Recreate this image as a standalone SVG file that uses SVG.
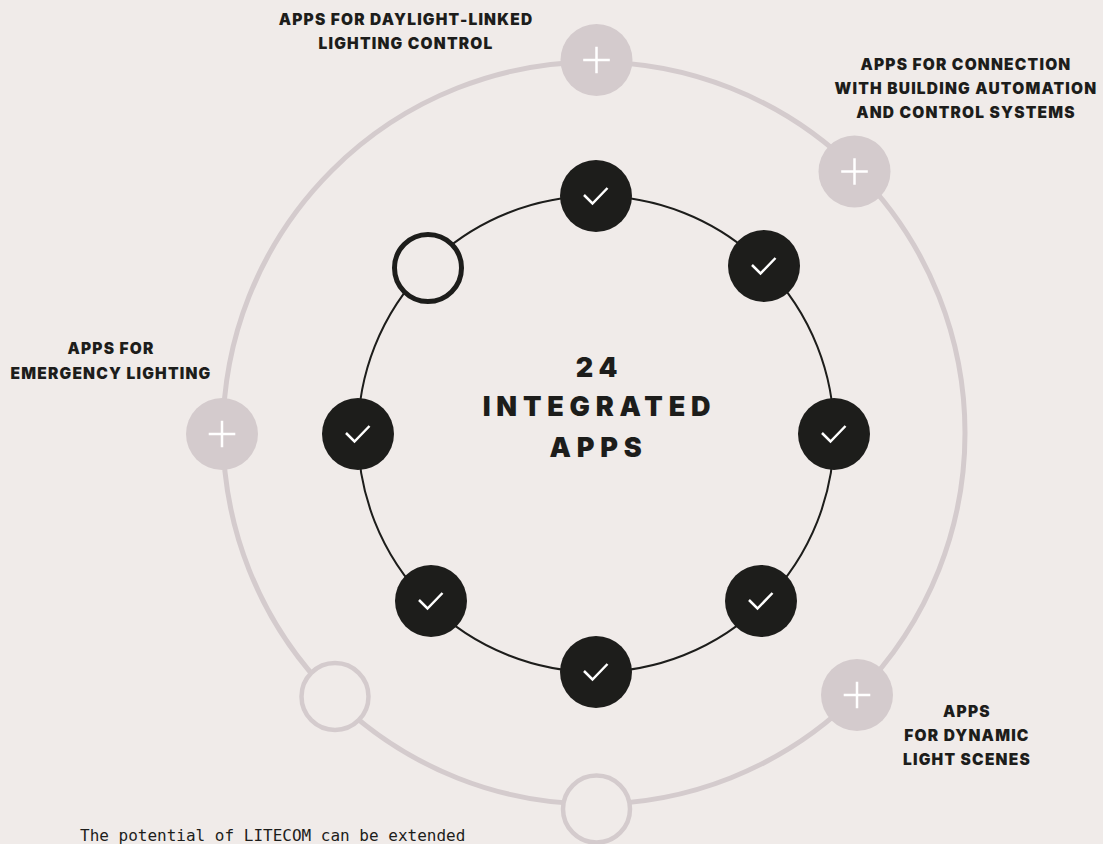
<svg xmlns="http://www.w3.org/2000/svg" width="1103" height="844" viewBox="0 0 1103 844">
<style>
.bg{fill:#f0ebe9}
.ro{fill:none;stroke:#d4cbcd;stroke-width:5}
.ri{fill:none;stroke:#1d1d1b;stroke-width:2}
.p{fill:#d4cbcd}
.po{fill:#f0ebe9;stroke:#d4cbcd;stroke-width:4.5}
.d{fill:#1d1d1b}
.do{fill:#f0ebe9;stroke:#1d1d1b;stroke-width:5}
.ic{fill:none;stroke:#fff;stroke-width:2.5}
.l{font-family:Inter,Roboto,"Liberation Sans",sans-serif;font-weight:900;font-size:15.5px;letter-spacing:1.2px;fill:#1d1d1b;text-anchor:middle}
.t{font-family:Inter,Roboto,"Liberation Sans",sans-serif;font-weight:900;font-size:27px;letter-spacing:5.8px;fill:#1d1d1b;text-anchor:middle}
.m{font-family:"DejaVu Sans Mono",monospace;font-size:16px;fill:#1d1d1b}
</style>
<defs>
<g id="plus"><path class="ic" d="M-13.3 0H13.3M0-13.3V13.3"/></g>
<g id="check"><path class="ic" d="M-12-1L-3.5 7.5L11.5-8"/></g>
</defs>
<rect class="bg" width="1103" height="844"/>
<g id="connectors">
<circle class="ro" cx="594" cy="433" r="371"/>
<circle class="ri" cx="596" cy="434" r="238"/>
</g>
<g id="o1"><circle class="p" cx="596.5" cy="60" r="36"/><use href="#plus" x="596.5" y="60"/></g>
<g id="o2"><circle class="p" cx="854.5" cy="171.5" r="36"/><use href="#plus" x="854.5" y="171.5"/></g>
<g id="o3"><circle class="p" cx="857" cy="695" r="36"/><use href="#plus" x="857" y="695"/></g>
<g id="o4"><circle class="po" cx="596.5" cy="809" r="33.5"/></g>
<g id="o5"><circle class="po" cx="335" cy="696.5" r="33.5"/></g>
<g id="o6"><circle class="p" cx="222" cy="434" r="36"/><use href="#plus" x="222" y="434"/></g>
<g id="i1"><circle class="d" cx="596" cy="196" r="36"/><use href="#check" x="596" y="196"/></g>
<g id="i2"><circle class="d" cx="764" cy="266" r="36"/><use href="#check" x="764" y="266"/></g>
<g id="i3"><circle class="d" cx="834" cy="434" r="36"/><use href="#check" x="834" y="434"/></g>
<g id="i4"><circle class="d" cx="761" cy="601" r="36"/><use href="#check" x="761" y="601"/></g>
<g id="i5"><circle class="d" cx="596" cy="672" r="36"/><use href="#check" x="596" y="672"/></g>
<g id="i6"><circle class="d" cx="431" cy="601" r="36"/><use href="#check" x="431" y="601"/></g>
<g id="i7"><circle class="d" cx="358" cy="434" r="36"/><use href="#check" x="358" y="434"/></g>
<g id="i8"><circle class="do" cx="428" cy="268" r="33.5"/></g>
<g id="labels">
<text class="l" x="406" y="25">APPS FOR DAYLIGHT-LINKED</text>
<text class="l" x="406" y="49">LIGHTING CONTROL</text>
<text class="l" x="966" y="70">APPS FOR CONNECTION</text>
<text class="l" x="966" y="94">WITH BUILDING AUTOMATION</text>
<text class="l" x="966" y="118">AND CONTROL SYSTEMS</text>
<text class="l" x="111" y="354">APPS FOR</text>
<text class="l" x="111" y="379">EMERGENCY LIGHTING</text>
<text class="l" x="967" y="717">APPS</text>
<text class="l" x="967" y="741">FOR DYNAMIC</text>
<text class="l" x="967" y="765">LIGHT SCENES</text>
<text class="t" x="599.5" y="377">24</text>
<text class="t" x="599.5" y="416">INTEGRATED</text>
<text class="t" x="598.5" y="457">APPS</text>
<text class="m" x="80" y="841">The potential of LITECOM can be extended</text>
</g>
</svg>
